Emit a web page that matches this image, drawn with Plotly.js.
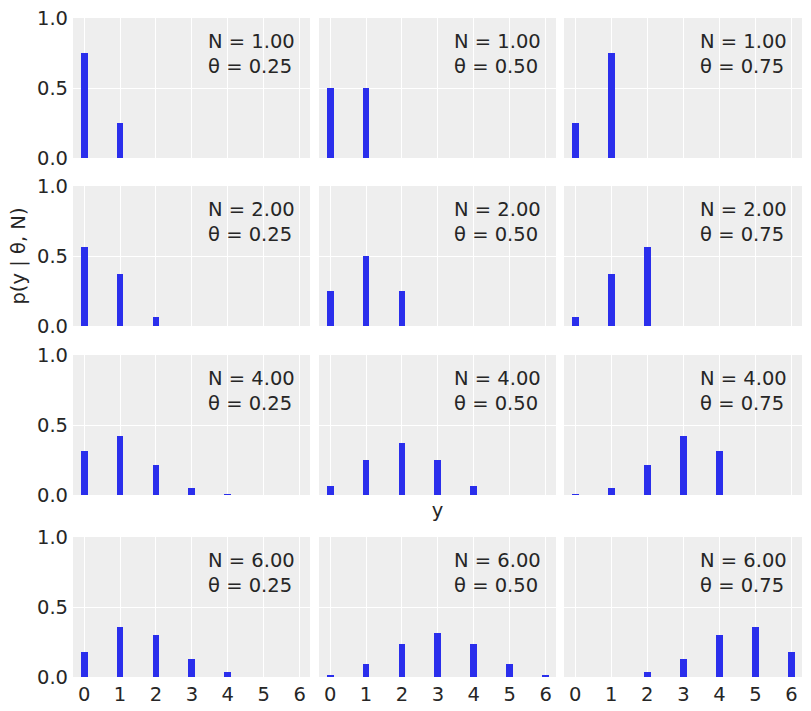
<!DOCTYPE html>
<html>
<head>
<meta charset="utf-8">
<script src="https://cdn.plot.ly/plotly-3.0.1.min.js"></script>
<style>
  html, body { margin: 0; padding: 0; background: #fff; }
  #plot { width: 811px; height: 711px; }
</style>
</head>
<body>
<div id="plot"></div>
<script>
// grid values: rows are N, columns are theta
const nValues = [1, 2, 4, 6];
const thetaValues = [0.25, 0.50, 0.75];
const xTicks = [0, 1, 2, 3, 4, 5, 6];

// probabilities, one list per (N, theta)
const probsN1 = [
    [0.75, 0.25],
    [0.50, 0.50],
    [0.25, 0.75],
];
const probsN2 = [
    [0.5625, 0.375, 0.0625],
    [0.25, 0.50, 0.25],
    [0.0625, 0.375, 0.5625],
];
const probsN4 = [
    [0.316, 0.422, 0.211, 0.047, 0.004],
    [0.0625, 0.25, 0.375, 0.25, 0.0625],
    [0.004, 0.047, 0.211, 0.422, 0.316],
];
const probsN6 = [
    [0.178, 0.356, 0.297, 0.132, 0.033, 0, 0],
    [0.016, 0.094, 0.234, 0.313, 0.234, 0.094, 0.016],
    [0, 0, 0.033, 0.132, 0.297, 0.356, 0.178],
];
const probsByRow = [probsN1, probsN2, probsN4, probsN6];

const W = 811, H = 711;
// panel edges in px
const colEdges = [[73, 310], [319, 556], [564, 802]];
const rowEdges = [[18, 158], [186, 326], [355, 495], [537, 677]];

const FONT = 'DejaVu Sans, sans-serif';
const FSIZE = 19.5;
const TEXT = '#262626';
const BAR = '#2a2eec';

const traces = [];
const layout = {
    width: W,
    height: H,
    margin: { l: 0, r: 0, t: 0, b: 0 },
    paper_bgcolor: '#ffffff',
    plot_bgcolor: '#eeeeee',
    showlegend: false,
    font: { family: FONT, size: FSIZE, color: TEXT },
    bargap: 0,
    annotations: [],
};

let k = 0;
nValues.forEach((n, ri) => {
    thetaValues.forEach((theta, ci) => {
        k += 1;
        const sfx = k === 1 ? '' : String(k);
        const probs = probsByRow[ri][ci];
        traces.push({
            type: 'bar',
            x: probs.map((_, i) => i),
            y: probs,
            width: 0.19,
            xaxis: 'x' + sfx,
            yaxis: 'y' + sfx,
            marker: { color: BAR, line: { width: 0 } },
            hoverinfo: 'x+y',
        });

        const xa = {
            domain: [colEdges[ci][0] / W, colEdges[ci][1] / W],
            anchor: 'y' + sfx,
            range: [-0.31, 6.29],
            tickvals: xTicks,
            showticklabels: ri === nValues.length - 1,
            ticks: '',
            ticklabelstandoff: 3,
            showgrid: true,
            gridcolor: '#ffffff',
            gridwidth: 1,
            zeroline: false,
            showline: false,
            tickfont: { family: FONT, size: FSIZE, color: TEXT },
        };
        const ya = {
            domain: [1 - rowEdges[ri][1] / H, 1 - rowEdges[ri][0] / H],
            anchor: 'x' + sfx,
            range: [0, 1],
            tickvals: [0, 0.5, 1],
            ticktext: ['0.0', '0.5', '1.0'],
            showticklabels: ci === 0,
            ticks: '',
            ticklabelstandoff: 4,
            showgrid: true,
            gridcolor: '#ffffff',
            gridwidth: 1,
            zeroline: false,
            showline: false,
            tickfont: { family: FONT, size: FSIZE, color: TEXT },
        };
        if (ri === 2 && ci === 1) {
            xa.title = { text: 'y', font: { family: FONT, size: FSIZE, color: TEXT }, standoff: 8 };
        }
        if (ri === 1 && ci === 0) {
            ya.title = { text: 'p(y | θ, N)', font: { family: FONT, size: FSIZE, color: TEXT }, standoff: 6 };
        }
        layout['xaxis' + sfx] = xa;
        layout['yaxis' + sfx] = ya;

        layout.annotations.push({
            xref: 'x' + sfx,
            yref: 'y' + sfx,
            x: 3.4,
            y: 0.745,
            xanchor: 'left',
            yanchor: 'middle',
            align: 'left',
            showarrow: false,
            text: `N = ${n.toFixed(2)}<br>θ = ${theta.toFixed(2)}`,
            font: { family: FONT, size: FSIZE, color: TEXT },
        });
    });
});

Plotly.newPlot('plot', traces, layout, { displayModeBar: false, staticPlot: true });
</script>
</body>
</html>
